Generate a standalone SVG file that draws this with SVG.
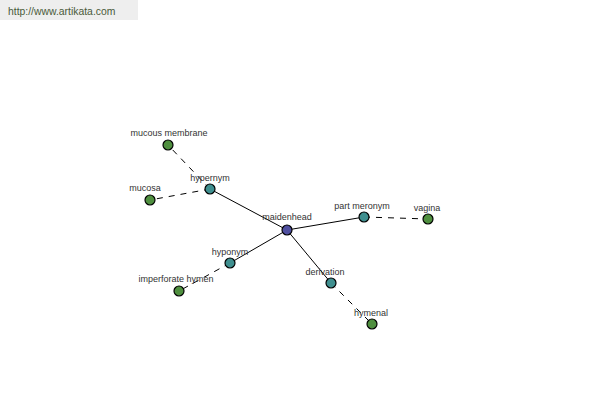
<svg xmlns="http://www.w3.org/2000/svg" width="600" height="400" viewBox="0 0 600 400">
<style>
text{font-family:"Liberation Sans",Arial,sans-serif;font-size:9px;fill:#333;text-anchor:middle}
.c{stroke:#000;stroke-width:1.2}
.main{fill:#4f4f9f}
.mid{fill:#3f8f8f}
.leaf{fill:#4f8f3f}
.e{stroke:#000;stroke-width:1;fill:none}
.d{stroke-dasharray:6,6}
</style>
<rect x="0" y="0" width="138" height="20" fill="#eeeeee"/>
<text x="8" y="15" style="text-anchor:start;font-size:10.4px;fill:#4a5a3a">http://www.artikata.com</text>
<g id="connectors">
<line class="e" x1="287" y1="230" x2="210" y2="189"/>
<line class="e" x1="287" y1="230" x2="364" y2="217"/>
<line class="e" x1="287" y1="230" x2="230" y2="263"/>
<line class="e" x1="287" y1="230" x2="331" y2="283"/>
<line class="e d" x1="210" y1="189" x2="168" y2="145"/>
<line class="e d" x1="210" y1="189" x2="150" y2="200"/>
<line class="e d" x1="364" y1="217" x2="428" y2="219"/>
<line class="e d" x1="230" y1="263" x2="179" y2="291"/>
<line class="e d" x1="331" y1="283" x2="372" y2="324"/>
</g>
<g id="maidenhead"><circle class="c main" cx="287" cy="230" r="5"/><text x="287" y="220">maidenhead</text></g>
<g id="hypernym"><circle class="c mid" cx="210" cy="189" r="5"/><text x="210" y="181">hypernym</text></g>
<g id="mucous-membrane"><circle class="c leaf" cx="168" cy="145" r="5"/><text x="169" y="136">mucous membrane</text></g>
<g id="mucosa"><circle class="c leaf" cx="150" cy="200" r="5"/><text x="145" y="191">mucosa</text></g>
<g id="part-meronym"><circle class="c mid" cx="364" cy="217" r="5"/><text x="362" y="209">part meronym</text></g>
<g id="vagina"><circle class="c leaf" cx="428" cy="219" r="5"/><text x="427" y="211">vagina</text></g>
<g id="hyponym"><circle class="c mid" cx="230" cy="263" r="5"/><text x="230" y="255">hyponym</text></g>
<g id="imperforate-hymen"><circle class="c leaf" cx="179" cy="291" r="5"/><text x="176" y="282">imperforate hymen</text></g>
<g id="derivation"><circle class="c mid" cx="331" cy="283" r="5"/><text x="325" y="275">derivation</text></g>
<g id="hymenal"><circle class="c leaf" cx="372" cy="324" r="5"/><text x="371" y="316">hymenal</text></g>
</svg>
